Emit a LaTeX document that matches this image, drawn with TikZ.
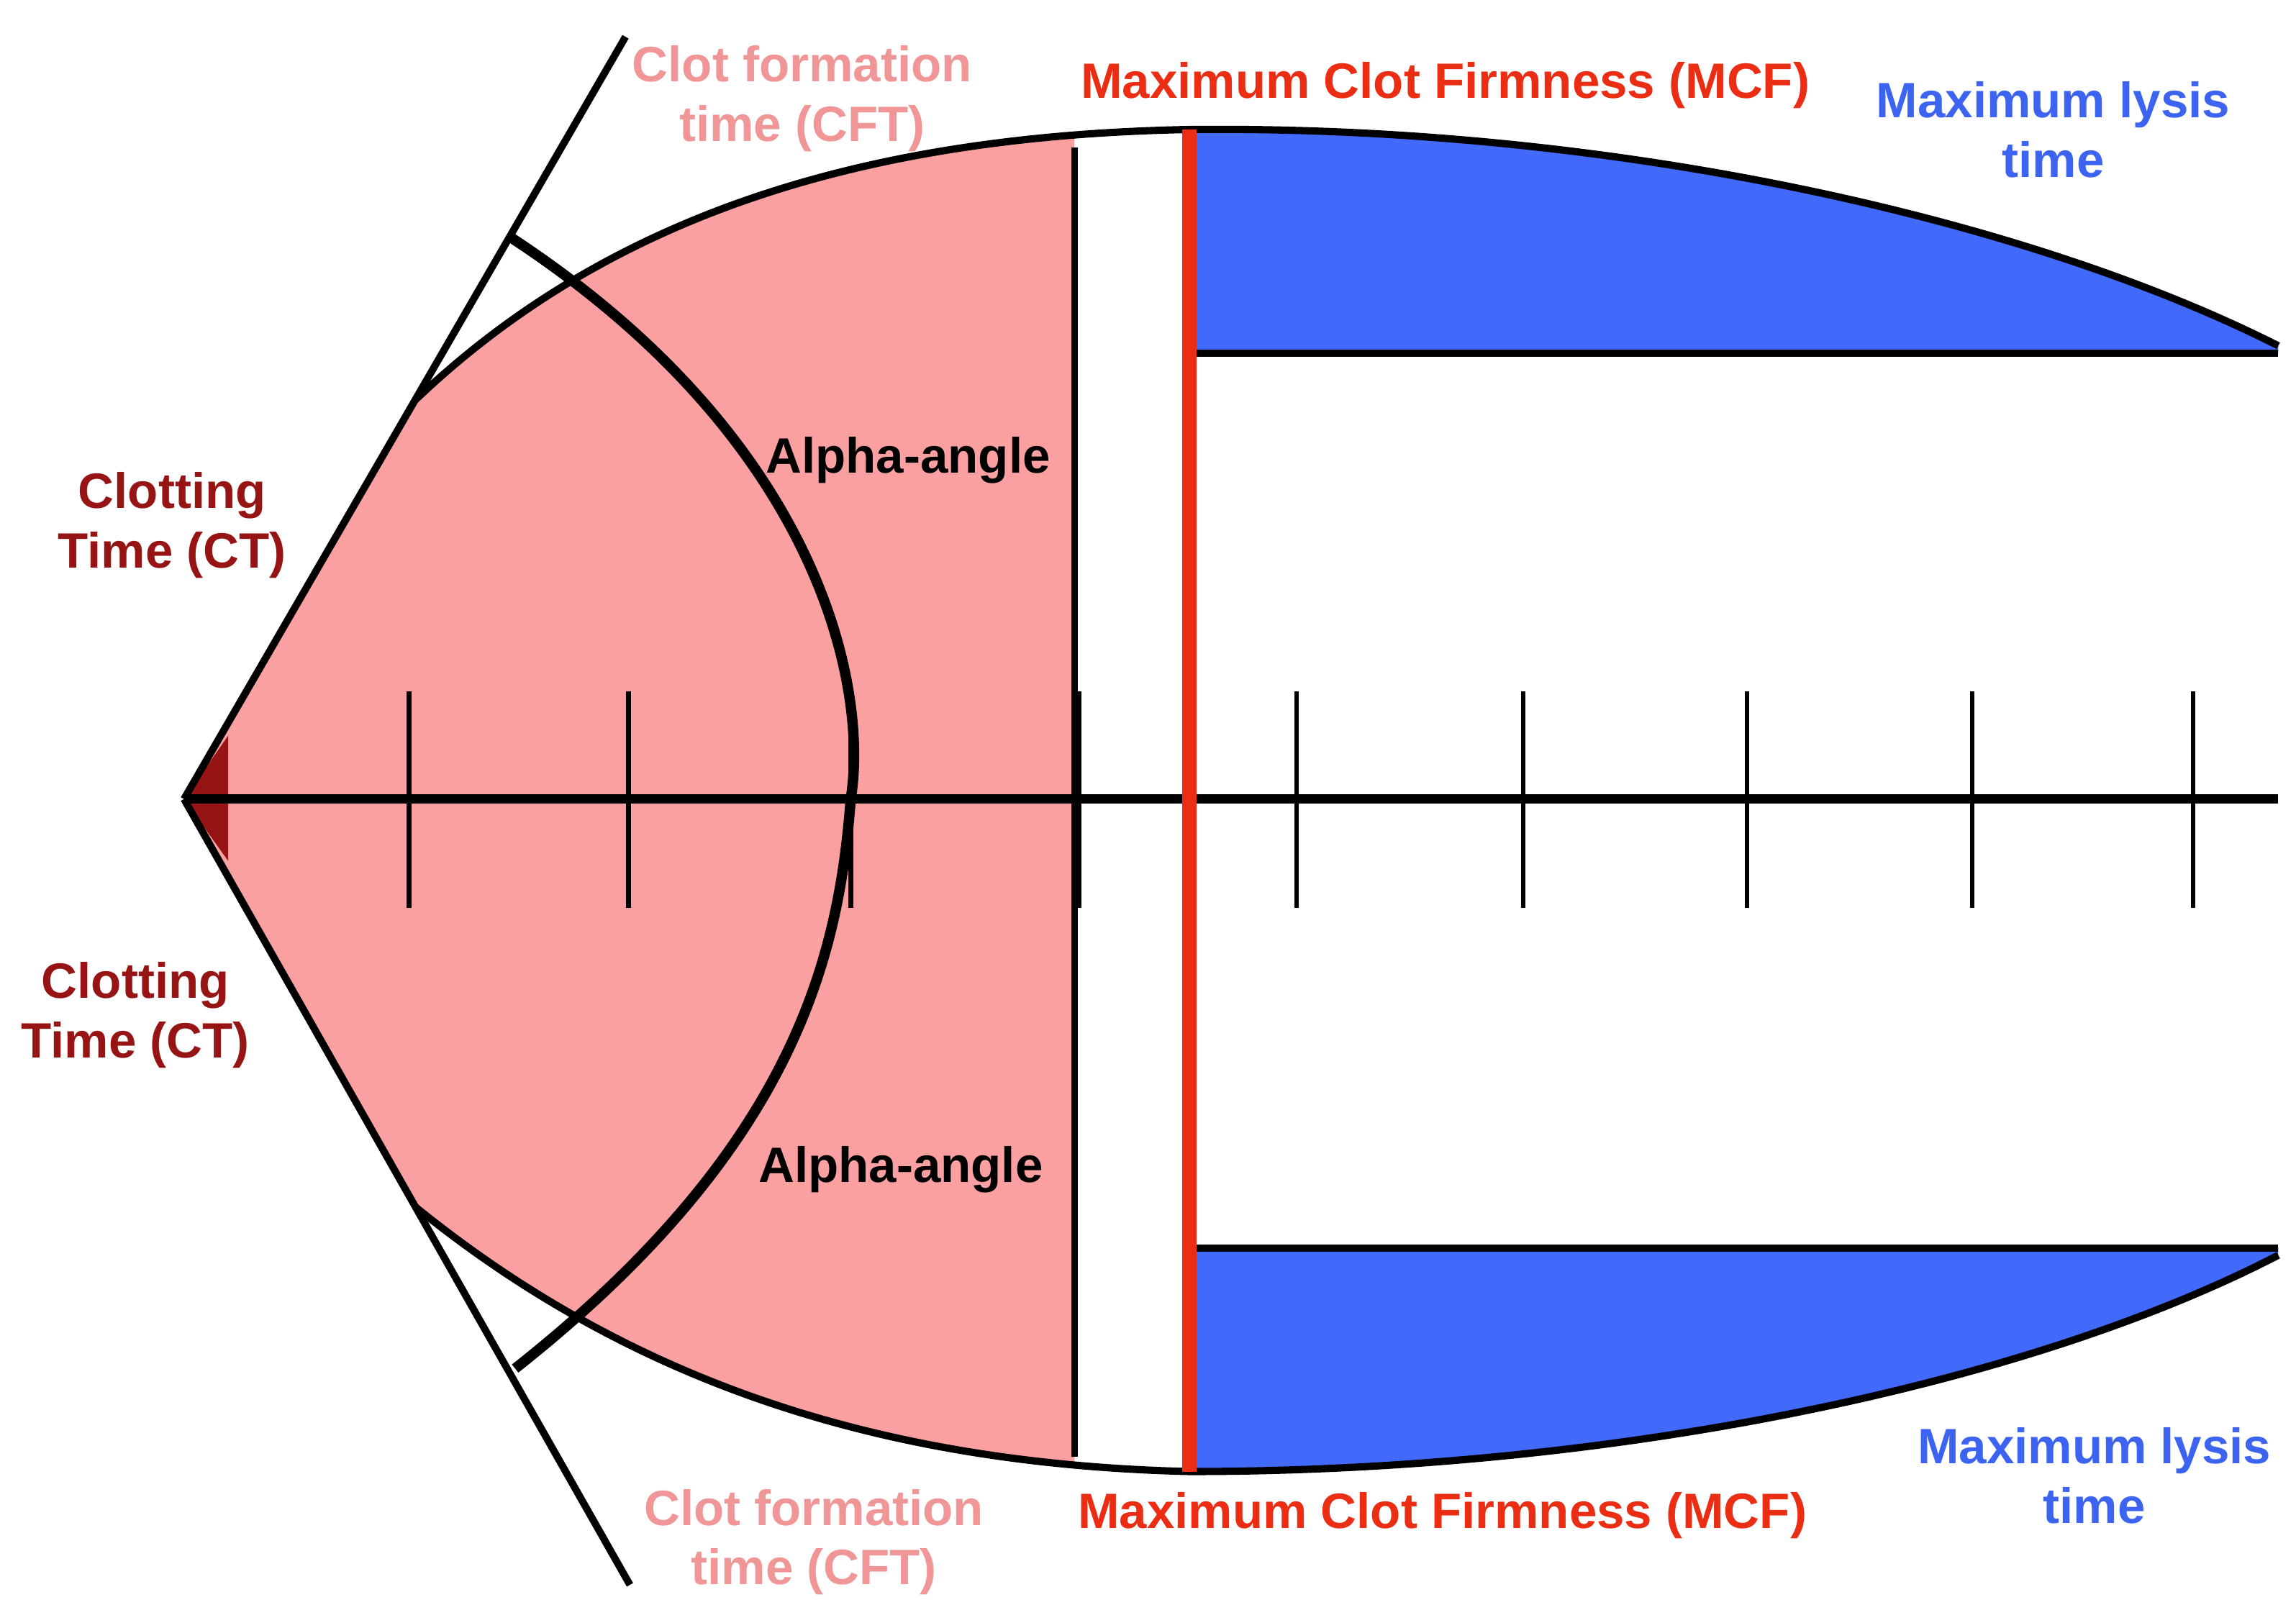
\documentclass[tikz,border=0pt]{standalone}
\usepackage{fontspec}
\setmainfont{Liberation Sans}
\begin{document}
\definecolor{pinkfill}{RGB}{250,160,160}
\definecolor{bluefill}{RGB}{65,105,250}
\definecolor{pinktext}{RGB}{240,150,150}
\definecolor{darkredtext}{RGB}{150,20,20}
\definecolor{redline}{RGB}{235,45,20}
\definecolor{bluetext}{RGB}{60,100,240}
\begin{tikzpicture}[x=0.01cm,y=-0.01cm,
  lbl/.style={font=\fontsize{9.6}{11.5}\selectfont\bfseries,align=center},
  blk/.style={line width=1.4pt,black},
  tick/.style={line width=0.9pt,black}]
\useasboundingbox (0,0) rectangle (1560,1094);
\def\env{(125,543) -- (282,272) .. controls (420,140) and (600,92) .. (808,88) .. controls (1100,85) and (1380,150) .. (1548,235) -- (1548,853) .. controls (1380,940) and (1100,1000) .. (808,1000) .. controls (600,995) and (430,940) .. (282,820) -- cycle}
\begin{scope}\clip (0,0) rectangle (730,1094); \fill[pinkfill] \env; \end{scope}
\begin{scope}\clip (812,0) rectangle (1560,240); \fill[bluefill] \env; \end{scope}
\begin{scope}\clip (812,848) rectangle (1560,1094); \fill[bluefill] \env; \end{scope}
\draw[blk] (282,272) .. controls (420,140) and (600,92) .. (808,88) .. controls (1100,85) and (1380,150) .. (1548,235);
\draw[blk] (282,820) .. controls (430,940) and (600,995) .. (808,1000) .. controls (1100,1000) and (1380,940) .. (1548,853);
\draw[blk] (812,240) -- (1548,240);
\draw[blk] (812,848) -- (1548,848);
\fill[darkredtext] (125,543) -- (155,500) -- (155,585) -- cycle;
\coordinate (apex) at (125,543);
\coordinate (t1) at (425,25);
\coordinate (t2) at (428,1077);
\draw[blk] (apex) -- (t1);
\draw[blk] (apex) -- (t2);
\draw[line width=2pt] (345,160) .. controls (560,300) and (590,470) .. (578,543) .. controls (570,650) and (540,780) .. (350,930);
\coordinate (a0) at (125,543); \coordinate (a1) at (1548,543);
\draw[line width=1.8pt] (a0) -- (a1);
\foreach \x in {278,427,578,733,881,1035,1187,1340,1490} \draw[tick] (\x,470) -- (\x,617);
\draw[line width=1.2pt] (730,100) -- (730,990);
\draw[line width=2.8pt,redline] (808,88) -- (808,1000);
\node[lbl,text=pinktext] (cft1) at (545,67) {Clot formation\\time (CFT)};
\node[lbl,text=pinktext] (cft2) at (553,1048) {Clot formation\\time (CFT)};
\node[lbl,text=redline] (mcf1) at (982,58) {Maximum Clot Firmness (MCF)};
\node[lbl,text=redline] (mcf2) at (980,1030) {Maximum Clot Firmness (MCF)};
\node[lbl,text=bluetext] (ml1) at (1395,88) {Maximum lysis\\time};
\node[lbl,text=bluetext] (ml2) at (1423,1003) {Maximum lysis\\time};
\node[lbl,text=darkredtext] (ct1) at (117,357) {Clotting\\Time (CT)};
\node[lbl,text=darkredtext] (ct2) at (92,690) {Clotting\\Time (CT)};
\node[lbl] (aa1) at (617,313) {Alpha-angle};
\node[lbl] (aa2) at (612,795) {Alpha-angle};
\end{tikzpicture}
\end{document}
